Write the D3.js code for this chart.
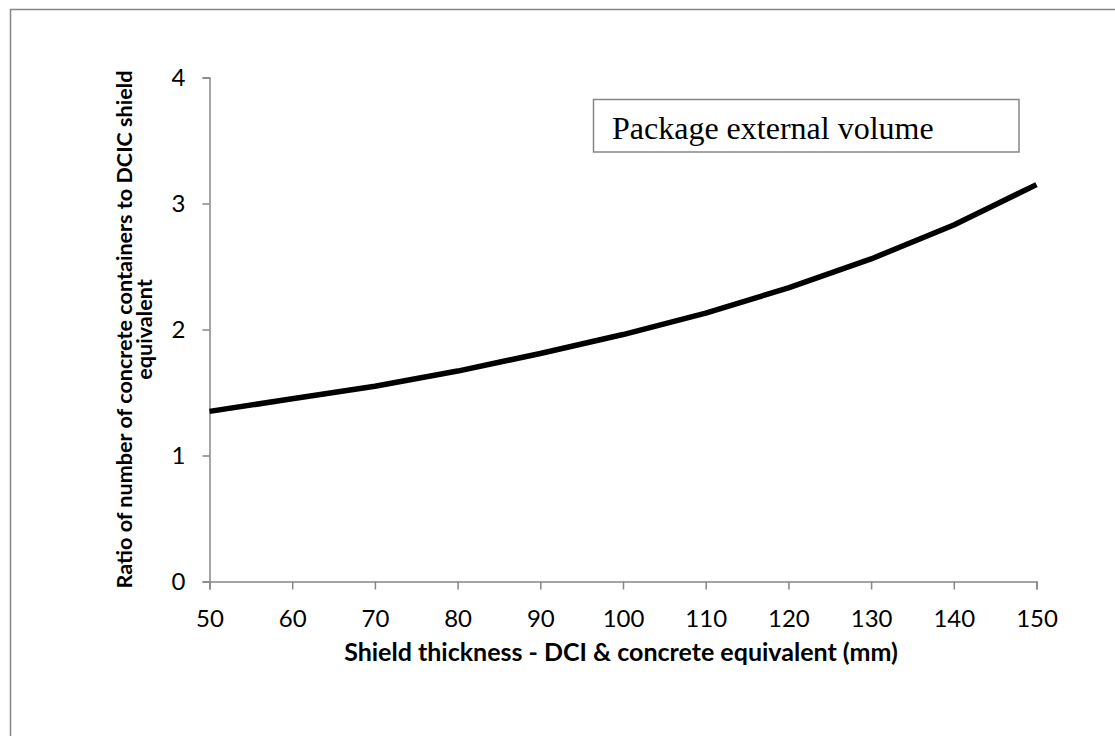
<!DOCTYPE html>
<html>
<head>
<meta charset="utf-8">
<script src="https://cdn.jsdelivr.net/npm/d3@7"></script>
<style>
  html, body { margin: 0; padding: 0; background: #fff; }
  svg { display: block; }
</style>
</head>
<body>
<svg id="chart" width="1115" height="736"></svg>
<script>
const thickness = [50, 60, 70, 80, 90, 100, 110, 120, 130, 140, 150];
const ratio = [1.35, 1.45, 1.55, 1.67, 1.81, 1.96, 2.13, 2.33, 2.56, 2.83, 3.15];
const xTicks = [50, 60, 70, 80, 90, 100, 110, 120, 130, 140, 150];
const yTicks = [0, 1, 2, 3, 4];
const xTitle = "Shield thickness - DCI & concrete equivalent (mm)";
const yTitleLines = ["Ratio of number of concrete containers to DCIC shield", "equivalent"];
const legendLabel = "Package external volume";

const svg = d3.select("#chart");
const axisColor = "#868686";

// outer chart-area border (extends past right/bottom of the frame)
svg.append("rect")
  .attr("x", 10.5).attr("y", 9.5)
  .attr("width", 1200).attr("height", 800)
  .attr("fill", "none").attr("stroke", axisColor).attr("stroke-width", 1.5);

const x = d3.scaleLinear().domain([50, 150]).range([209.5, 1036.5]);
const y = d3.scaleLinear().domain([0, 4]).range([581.5, 77.5]);

// y axis
const yAxis = svg.append("g")
  .attr("transform", `translate(${x(50)},0)`)
  .call(d3.axisLeft(y).tickValues(yTicks).tickSize(7).tickSizeOuter(7).tickPadding(17).tickFormat(d3.format("d")));
// x axis
const xAxis = svg.append("g")
  .attr("transform", `translate(0,${y(0)})`)
  .call(d3.axisBottom(x).tickValues(xTicks).tickSize(8).tickSizeOuter(8).tickPadding(20).tickFormat(d3.format("d")));

[xAxis, yAxis].forEach(g => {
  g.selectAll("path.domain").attr("stroke", axisColor).attr("stroke-width", 1.5);
  g.selectAll(".tick line").attr("stroke", axisColor).attr("stroke-width", 1.5);
  g.selectAll(".tick text")
    .attr("fill", "#000")
    .style("font-family", "Lato, 'Open Sans', sans-serif")
    .style("font-size", "24px");
});

// line
svg.append("path")
  .datum(thickness.map((t, i) => [t, ratio[i]]))
  .attr("fill", "none")
  .attr("stroke", "#000")
  .attr("stroke-width", 5.5)
  .attr("stroke-linejoin", "round")
  .attr("d", d3.line().x(d => x(d[0])).y(d => y(d[1])));

// x title
svg.append("text")
  .attr("x", (x(50) + x(150)) / 2 - 2)
  .attr("y", 661)
  .attr("text-anchor", "middle")
  .style("font-family", "Lato, 'Open Sans', sans-serif")
  .style("font-weight", "bold")
  .style("font-size", "25px")
  .text(xTitle);

// y title
const yMid = (y(0) + y(4)) / 2;
const yt = svg.append("text")
  .attr("transform", `translate(132,${yMid}) rotate(-90)`)
  .attr("text-anchor", "middle")
  .style("font-family", "Lato, 'Open Sans', sans-serif")
  .style("font-weight", "bold")
  .style("font-size", "21.6px");
yt.selectAll("tspan").data(yTitleLines).join("tspan")
  .attr("x", 0)
  .attr("dy", (d, i) => i === 0 ? 0 : 20)
  .text(d => d);

// legend box
svg.append("rect")
  .attr("x", 593.5).attr("y", 99.5)
  .attr("width", 425.5).attr("height", 52.5)
  .attr("fill", "#fff").attr("stroke", axisColor).attr("stroke-width", 1.5);
svg.append("text")
  .attr("x", 612).attr("y", 139)
  .style("font-family", "'Liberation Serif', 'Times New Roman', serif")
  .style("font-size", "32px")
  .attr("fill", "#000")
  .text(legendLabel);
</script>
</body>
</html>
